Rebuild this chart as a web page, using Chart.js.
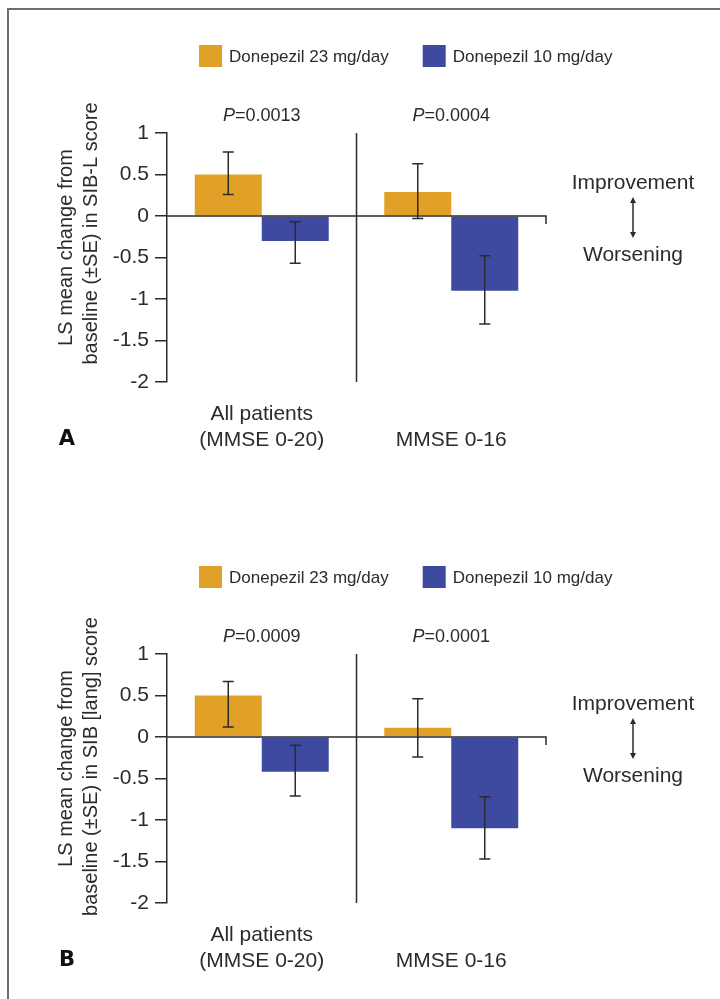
<!DOCTYPE html>
<html>
<head>
<meta charset="utf-8">
<script src="https://cdn.jsdelivr.net/npm/chart.js@4.4.1/dist/chart.umd.min.js"></script>
<style>
html,body{margin:0;padding:0;background:#fff;}
body{width:720px;height:999px;position:relative;overflow:hidden;}
#frame{position:absolute;left:7px;top:8px;width:760px;height:1100px;border-left:2px solid #6f6f6f;border-top:2px solid #6f6f6f;}
.panel{position:absolute;left:0;width:720px;height:480px;}
#pa{top:0;}
#pb{top:521px;}
</style>
</head>
<body>
<div id="frame"></div>
<div class="panel" id="pa"><canvas id="chartA" width="720" height="480"></canvas></div>
<div class="panel" id="pb"><canvas id="chartB" width="720" height="480"></canvas></div>
<script>
// ===== data =====
const groups = [['All patients', '(MMSE 0-20)'], ['', 'MMSE 0-16']];
const seriesNames = ['Donepezil 23 mg/day', 'Donepezil 10 mg/day'];
const yTicks = [1, 0.5, 0, -0.5, -1, -1.5, -2];

// A: SIB-L
const sibL23 = [0.50, 0.29];
const sibL23Lo = [0.26, -0.03];
const sibL23Hi = [0.77, 0.63];
const sibL10 = [-0.30, -0.90];
const sibL10Lo = [-0.57, -1.30];
const sibL10Hi = [-0.07, -0.48];
const pA = ['0.0013', '0.0004'];

// B: SIB [lang]
const lang23 = [0.50, 0.11];
const lang23Lo = [0.12, -0.24];
const lang23Hi = [0.67, 0.46];
const lang10 = [-0.42, -1.10];
const lang10Lo = [-0.71, -1.47];
const lang10Hi = [-0.10, -0.72];
const pB = ['0.0009', '0.0001'];

// ===== style =====
const FONT = '"Liberation Sans", Arial, Helvetica, sans-serif';
const INK = '#2b2b2b';
const ORANGE = '#E1A128', BLUE = '#3E4A9F';

// ===== extra drawing: error bars, zero line, divider, labels =====
const deco = {
  id: 'deco',
  afterDatasetsDraw(c, args, o) {
    const { ctx, chartArea: a, scales: { x, y } } = c;
    const y0 = y.getPixelForValue(0);
    ctx.save();
    ctx.strokeStyle = INK; ctx.lineWidth = 1.5;

    // error bars
    c.data.datasets.forEach((ds, di) => {
      c.getDatasetMeta(di).data.forEach((bar, i) => {
        const yl = y.getPixelForValue(ds.lo[i]), yh = y.getPixelForValue(ds.hi[i]);
        ctx.beginPath();
        ctx.moveTo(bar.x, yl); ctx.lineTo(bar.x, yh);
        ctx.moveTo(bar.x - 5.5, yl); ctx.lineTo(bar.x + 5.5, yl);
        ctx.moveTo(bar.x - 5.5, yh); ctx.lineTo(bar.x + 5.5, yh);
        ctx.stroke();
      });
    });

    // zero line with end tick, and group divider
    ctx.beginPath();
    ctx.moveTo(a.left, y0); ctx.lineTo(a.right, y0); ctx.lineTo(a.right, y0 + 8);
    const xm = (x.getPixelForValue(0) + x.getPixelForValue(1)) / 2;
    ctx.moveTo(xm, a.top); ctx.lineTo(xm, a.bottom);
    ctx.stroke();

    ctx.fillStyle = INK;
    ctx.textBaseline = 'middle';

    // P values
    o.p.forEach((p, i) => {
      const cx = x.getPixelForValue(i);
      ctx.font = `italic 18px ${FONT}`; const w1 = ctx.measureText('P').width;
      ctx.font = `18px ${FONT}`; const w2 = ctx.measureText('=' + p).width;
      let sx = cx - (w1 + w2) / 2;
      ctx.textAlign = 'left';
      ctx.font = `italic 18px ${FONT}`; ctx.fillText('P', sx, a.top - 17);
      ctx.font = `18px ${FONT}`; ctx.fillText('=' + p, sx + w1, a.top - 17);
    });

    // legend
    let lx = a.left + 32;
    const ly = a.top - 77;
    ctx.font = `17px ${FONT}`;
    c.data.datasets.forEach(ds => {
      ctx.fillStyle = ds.backgroundColor;
      ctx.fillRect(lx, ly - 11, 23, 22);
      ctx.fillStyle = INK;
      ctx.fillText(ds.label, lx + 30, ly + 1);
      lx += 30 + ctx.measureText(ds.label).width + 34;
    });

    // improvement / worsening
    const rx = a.right + 87;
    ctx.textAlign = 'center';
    ctx.font = `21px ${FONT}`;
    ctx.fillText('Improvement', rx, y0 - 33);
    ctx.fillText('Worsening', rx, y0 + 39);
    ctx.beginPath();
    ctx.moveTo(rx, y0 - 16); ctx.lineTo(rx, y0 + 19);
    ctx.stroke();
    ctx.beginPath();
    ctx.moveTo(rx, y0 - 19); ctx.lineTo(rx - 3, y0 - 13); ctx.lineTo(rx + 3, y0 - 13); ctx.closePath();
    ctx.moveTo(rx, y0 + 22); ctx.lineTo(rx - 3, y0 + 16); ctx.lineTo(rx + 3, y0 + 16); ctx.closePath();
    ctx.fill();

    // y title
    const mid = (a.top + a.bottom) / 2;
    ctx.save();
    ctx.translate(66, mid);
    ctx.rotate(-Math.PI / 2);
    ctx.font = `20px ${FONT}`;
    ctx.fillText(o.title[0], 10, 0);
    ctx.fillText(o.title[1], o.shift2, 25);
    ctx.restore();

    // panel letter
    ctx.textAlign = 'center';
    ctx.font = `bold 21px "DejaVu Sans", ${FONT}`;
    ctx.fillStyle = '#111';
    ctx.fillText(o.letter, 67, a.bottom + 58);
    ctx.restore();
  }
};

function makeChart(id, d23, lo23, hi23, d10, lo10, hi10, p, title, shift2, letter) {
  return new Chart(document.getElementById(id), {
    type: 'bar',
    data: {
      labels: groups,
      datasets: [
        { label: seriesNames[0], data: d23, lo: lo23, hi: hi23, backgroundColor: ORANGE,
          categoryPercentage: 0.707, barPercentage: 1 },
        { label: seriesNames[1], data: d10, lo: lo10, hi: hi10, backgroundColor: BLUE,
          categoryPercentage: 0.707, barPercentage: 1 }
      ]
    },
    options: {
      responsive: false, animation: false,
      layout: { padding: { top: 133, right: 174, left: 0, bottom: 0 } },
      plugins: { legend: { display: false }, tooltip: { enabled: false },
        deco: { p, title, shift2, letter } },
      scales: {
        x: {
          grid: { display: false, drawTicks: false }, border: { display: false },
          ticks: { font: { family: FONT, size: 21 }, color: INK, padding: 20, maxRotation: 0, autoSkip: false },
          afterFit: s => { s.height = 98; }
        },
        y: {
          min: -2, max: 1,
          afterBuildTicks: s => { s.ticks = yTicks.map(v => ({ value: v })); },
          ticks: { font: { family: FONT, size: 21 }, color: INK, padding: 6, callback: v => String(v) },
          grid: { drawOnChartArea: false, tickLength: 12, color: INK, lineWidth: 1.5 },
          border: { color: INK, width: 1.5 },
          afterFit: s => { s.width = 167; }
        }
      }
    },
    plugins: [deco]
  });
}

makeChart('chartA', sibL23, sibL23Lo, sibL23Hi, sibL10, sibL10Lo, sibL10Hi, pA,
  ['LS mean change from', 'baseline (\u00b1SE) in SIB-L score'], 24, 'A');
makeChart('chartB', lang23, lang23Lo, lang23Hi, lang10, lang10Lo, lang10Hi, pB,
  ['LS mean change from', 'baseline (\u00b1SE) in SIB [lang] score'], 12, 'B');
</script>
</body>
</html>
